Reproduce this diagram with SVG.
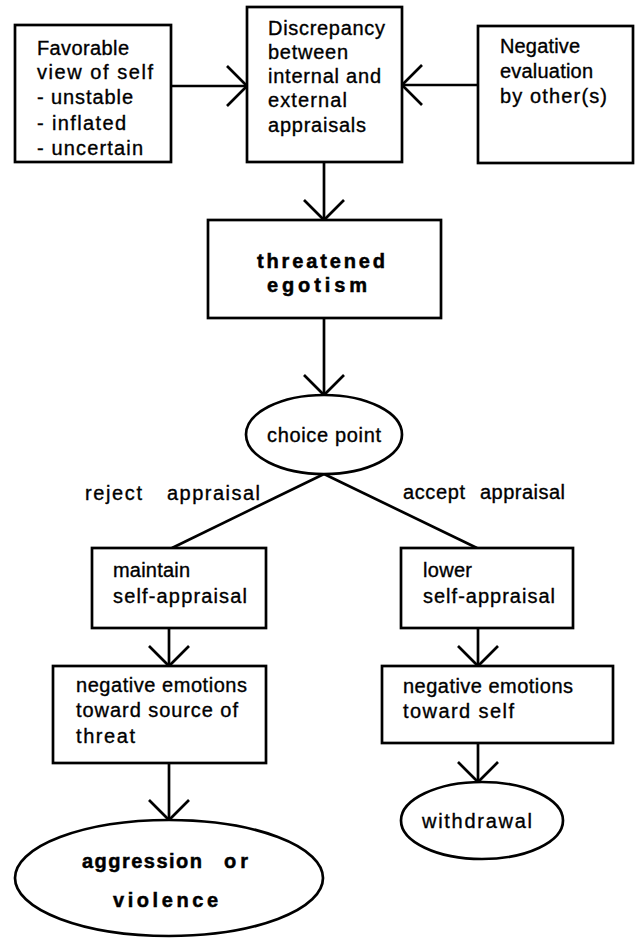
<svg xmlns="http://www.w3.org/2000/svg" width="637" height="938" viewBox="0 0 637 938">
<style>
.box{fill:#fff;stroke:#000;stroke-width:2.7}
.t{font-family:"Liberation Sans",Arial,Helvetica,sans-serif;font-size:20px;fill:#000;stroke:#000;stroke-width:0.35}
.b{font-weight:bold;stroke-width:0.5}
.c{fill:none;stroke:#000;stroke-width:2.7}
</style>
<defs>
<marker id="v" markerUnits="userSpaceOnUse" markerWidth="44" markerHeight="44" refX="22" refY="22" orient="auto" overflow="visible">
<path d="M2,2 L22,22 L2,42" fill="none" stroke="#000" stroke-width="2.7"/>
</marker>
</defs>
<rect width="637" height="938" fill="#fff"/>
<g id="connectors">
<line class="c" x1="171" y1="86" x2="247" y2="86" marker-end="url(#v)"/>
<line class="c" x1="478" y1="85" x2="402" y2="85" marker-end="url(#v)"/>
<line class="c" x1="324" y1="162" x2="324" y2="220" marker-end="url(#v)"/>
<line class="c" x1="324" y1="318" x2="324" y2="395" marker-end="url(#v)"/>
<line class="c" x1="324" y1="474" x2="172" y2="548"/>
<line class="c" x1="324" y1="474" x2="477" y2="548"/>
<line class="c" x1="169" y1="628" x2="169" y2="666" marker-end="url(#v)"/>
<line class="c" x1="478" y1="628" x2="478" y2="666" marker-end="url(#v)"/>
<line class="c" x1="169" y1="763" x2="169" y2="820" marker-end="url(#v)"/>
<line class="c" x1="478" y1="743" x2="478" y2="782" marker-end="url(#v)"/>
<text class="t"><tspan x="85" y="500" textLength="57" lengthAdjust="spacing">reject</tspan><tspan x="167" y="500" textLength="93" lengthAdjust="spacing">appraisal</tspan></text>
<text class="t"><tspan x="403" y="499" textLength="62" lengthAdjust="spacing">accept</tspan><tspan x="480" y="499" textLength="85" lengthAdjust="spacing">appraisal</tspan></text>
</g>
<g id="favorable">
<rect class="box" x="15" y="25" width="156" height="137"/>
<text class="t" x="37" y="55" textLength="92" lengthAdjust="spacing">Favorable</text>
<text class="t" x="37" y="79" textLength="116" lengthAdjust="spacing">view of self</text>
<text class="t" x="37" y="104" textLength="96" lengthAdjust="spacing">- unstable</text>
<text class="t" x="37" y="130" textLength="89" lengthAdjust="spacing">- inflated</text>
<text class="t" x="37" y="155" textLength="106" lengthAdjust="spacing">- uncertain</text>
</g>
<g id="discrepancy">
<rect class="box" x="247" y="7" width="155" height="155"/>
<text class="t" x="268" y="35" textLength="117" lengthAdjust="spacing">Discrepancy</text>
<text class="t" x="268" y="59" textLength="80" lengthAdjust="spacing">between</text>
<text class="t" x="268" y="83" textLength="113" lengthAdjust="spacing">internal and</text>
<text class="t" x="268" y="107" textLength="79" lengthAdjust="spacing">external</text>
<text class="t" x="268" y="132" textLength="98" lengthAdjust="spacing">appraisals</text>
</g>
<g id="negative-evaluation">
<rect class="box" x="478" y="26" width="155" height="137"/>
<text class="t" x="500" y="53" textLength="80" lengthAdjust="spacing">Negative</text>
<text class="t" x="500" y="78" textLength="93" lengthAdjust="spacing">evaluation</text>
<text class="t" x="500" y="103" textLength="107" lengthAdjust="spacing">by other(s)</text>
</g>
<g id="threatened">
<rect class="box" x="208" y="220" width="233" height="98"/>
<text class="t b" x="257" y="268" textLength="128" lengthAdjust="spacing">threatened</text>
<text class="t b" x="267" y="292" textLength="100" lengthAdjust="spacing">egotism</text>
</g>
<g id="choice">
<ellipse class="box" cx="324" cy="434.5" rx="78" ry="39.5"/>
<text class="t" x="267" y="442" textLength="114" lengthAdjust="spacing">choice point</text>
</g>
<g id="maintain">
<rect class="box" x="92" y="548" width="174" height="80"/>
<text class="t" x="113" y="577" textLength="77" lengthAdjust="spacing">maintain</text>
<text class="t" x="113" y="603" textLength="134" lengthAdjust="spacing">self-appraisal</text>
</g>
<g id="lower">
<rect class="box" x="401" y="548" width="172" height="80"/>
<text class="t" x="423" y="577" textLength="49" lengthAdjust="spacing">lower</text>
<text class="t" x="423" y="603" textLength="132" lengthAdjust="spacing">self-appraisal</text>
</g>
<g id="neg-source">
<rect class="box" x="53" y="666" width="213" height="97"/>
<text class="t" x="76" y="692" textLength="171" lengthAdjust="spacing">negative emotions</text>
<text class="t" x="76" y="717" textLength="162" lengthAdjust="spacing">toward source of</text>
<text class="t" x="76" y="743" textLength="59" lengthAdjust="spacing">threat</text>
</g>
<g id="neg-self">
<rect class="box" x="382" y="666" width="231" height="77"/>
<text class="t" x="403" y="693" textLength="170" lengthAdjust="spacing">negative emotions</text>
<text class="t" x="403" y="718" textLength="111" lengthAdjust="spacing">toward self</text>
</g>
<g id="aggression">
<ellipse class="box" cx="169" cy="878" rx="154" ry="58"/>
<text class="t b"><tspan x="82" y="868" textLength="120" lengthAdjust="spacing">aggression</tspan><tspan x="224" y="868" textLength="24" lengthAdjust="spacing">or</tspan></text>
<text class="t b" x="113" y="907" textLength="105" lengthAdjust="spacing">violence</text>
</g>
<g id="withdrawal">
<ellipse class="box" cx="482" cy="820.5" rx="81" ry="38.5"/>
<text class="t" x="422" y="828" textLength="110" lengthAdjust="spacing">withdrawal</text>
</g>
</svg>
